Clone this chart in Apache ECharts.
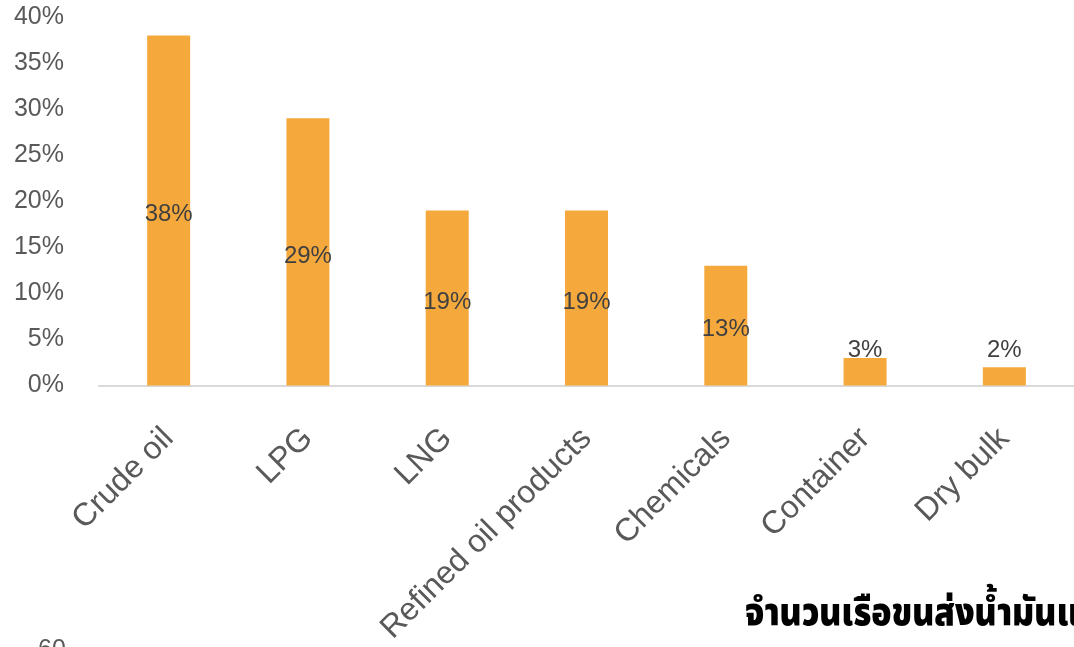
<!DOCTYPE html>
<html>
<head>
<meta charset="utf-8">
<script src="https://cdn.jsdelivr.net/npm/echarts@6/dist/echarts.min.js"></script>
<style>
html,body{margin:0;padding:0;background:#fff;}
#chart{width:1074px;height:647px;}
</style>
</head>
<body>
<div id="chart"></div>
<script>
const categories = ['Crude oil', 'LPG', 'LNG', 'Refined oil products', 'Chemicals', 'Container', 'Dry bulk'];
const shares = [38, 29, 19, 19, 13, 3, 2];
const yTicks = { min: 0, max: 40, interval: 5 };
const thaiTitle = 'จำนวนเรือขนส่งน้ำมันแ';
const nextAxisLabel = '60';

const chart = echarts.init(document.getElementById('chart'), null, { renderer: 'canvas' });
const font = 'Liberation Sans, Arial, Helvetica, sans-serif';

chart.setOption({
  animation: false,
  backgroundColor: '#ffffff',
  grid: { left: 99, right: -4, top: 17, bottom: 260, containLabel: false },
  xAxis: {
    type: 'category',
    data: categories,
    axisLine: { lineStyle: { color: '#d9d9d9', width: 2 } },
    axisTick: { show: false },
    axisLabel: { rotate: 45, color: '#595959', fontSize: 32, fontFamily: font, margin: 48, interval: 0 }
  },
  yAxis: {
    type: 'value',
    min: yTicks.min, max: yTicks.max, interval: yTicks.interval,
    axisLine: { show: false },
    axisTick: { show: false },
    splitLine: { show: false },
    axisLabel: { color: '#595959', fontSize: 25, fontFamily: font, margin: 35, formatter: '{value}%' }
  },
  series: [{
    type: 'bar',
    barWidth: 43,
    data: shares.map(v => ({
      value: v,
      label: v < 5 ? { position: 'insideBottom', distance: 23 } : { position: 'inside', offset: [0, 4] }
    })),
    itemStyle: { color: '#F5A93D' },
    label: { show: true, color: '#404040', fontSize: 24, fontFamily: font, formatter: '{c}%' }
  }],
  graphic: [
    { type: 'text', left: 745, top: 598, scaleX: 0.855, originX: 0,
      style: { text: thaiTitle, fill: '#000000', font: '900 39px "Noto Sans Thai", sans-serif' } },
    { type: 'text', left: 38, top: 638, style: { text: nextAxisLabel, fill: '#595959', font: '25px ' + font } }
  ]
});
</script>
</body>
</html>
